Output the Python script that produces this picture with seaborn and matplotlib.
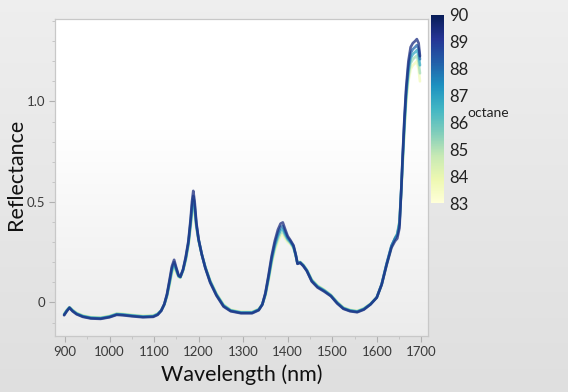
import numpy as np
import pandas as pd
import matplotlib
matplotlib.use("Agg")
import matplotlib.pyplot as plt
import seaborn as sns
from matplotlib.ticker import MultipleLocator

# ---------------- data ----------------
wavelength = [898, 904, 910, 917, 926, 940, 958, 980, 1000, 1016, 1030, 1050, 1075, 1098,
              1108, 1116, 1123, 1129, 1135, 1140, 1145, 1150, 1155, 1159, 1165, 1171, 1177,
              1182, 1185, 1188, 1191, 1195, 1200, 1207, 1215, 1226, 1240, 1256, 1272, 1295,
              1320, 1335, 1343, 1350, 1357, 1364, 1371, 1378, 1384, 1389, 1394, 1400, 1406,
              1413, 1418, 1422, 1428, 1435, 1443, 1454, 1467, 1482, 1497, 1511, 1525, 1540,
              1556, 1571, 1586, 1600, 1611, 1622, 1633, 1641, 1646, 1651, 1655, 1658, 1662,
              1666, 1671, 1676, 1681, 1686, 1690, 1694, 1697]

octane = [83.7, 85.2, 86.8, 88.1, 89.4]

refl_837 = [-0.056, -0.037, -0.024, -0.037, -0.051, -0.064, -0.072, -0.074, -0.066, -0.055,
            -0.056, -0.061, -0.066, -0.064, -0.055, -0.040, -0.013,
            0.028, 0.085, 0.140, 0.170, 0.148, 0.125, 0.122, 0.155, 0.205, 0.275, 0.365,
            0.425, 0.470, 0.440, 0.365, 0.305, 0.240, 0.178, 0.110, 0.046,
            -0.010, -0.036, -0.046, -0.046, -0.032, -0.010, 0.032, 0.105, 0.190, 0.255, 0.300,
            0.330, 0.338, 0.318, 0.300, 0.290, 0.268, 0.232, 0.198, 0.202, 0.188, 0.163,
            0.115, 0.085, 0.064, 0.038, 0.004, -0.024, -0.036, -0.041, -0.029, -0.006,
            0.025, 0.088, 0.185, 0.275, 0.320, 0.345, 0.405, 0.545, 0.670, 0.840, 0.990,
            1.100, 1.160, 1.180, 1.190, 1.200, 1.160, 1.100]

refl_852 = [-0.058, -0.038, -0.024, -0.038, -0.053, -0.066, -0.074, -0.076, -0.068, -0.056,
            -0.058, -0.063, -0.068, -0.066, -0.056, -0.040, -0.012,
            0.031, 0.092, 0.150, 0.180, 0.154, 0.128, 0.124, 0.158, 0.210, 0.283, 0.378,
            0.443, 0.490, 0.455, 0.372, 0.308, 0.240, 0.177, 0.108, 0.043,
            -0.012, -0.038, -0.048, -0.048, -0.034, -0.010, 0.036, 0.112, 0.200, 0.268, 0.315,
            0.345, 0.352, 0.330, 0.308, 0.295, 0.272, 0.234, 0.197, 0.201, 0.187, 0.162,
            0.113, 0.083, 0.062, 0.037, 0.002, -0.026, -0.038, -0.043, -0.030, -0.007,
            0.025, 0.089, 0.188, 0.278, 0.320, 0.342, 0.402, 0.552, 0.685, 0.860, 1.010,
            1.125, 1.190, 1.210, 1.220, 1.228, 1.195, 1.140]

refl_868 = [-0.060, -0.040, -0.025, -0.040, -0.055, -0.068, -0.076, -0.078, -0.070, -0.058,
            -0.060, -0.065, -0.070, -0.068, -0.058, -0.040, -0.010,
            0.035, 0.100, 0.160, 0.190, 0.160, 0.130, 0.125, 0.160, 0.215, 0.290, 0.390,
            0.460, 0.510, 0.470, 0.380, 0.310, 0.240, 0.175, 0.105, 0.040,
            -0.015, -0.040, -0.050, -0.050, -0.035, -0.010, 0.040, 0.120, 0.210, 0.280, 0.330,
            0.360, 0.365, 0.340, 0.315, 0.300, 0.275, 0.235, 0.195, 0.200, 0.185, 0.160,
            0.110, 0.080, 0.060, 0.035, 0.000, -0.028, -0.040, -0.045, -0.032, -0.008,
            0.025, 0.090, 0.190, 0.280, 0.320, 0.340, 0.400, 0.560, 0.700, 0.880, 1.030,
            1.150, 1.215, 1.235, 1.245, 1.255, 1.230, 1.180]

refl_881 = [-0.062, -0.042, -0.026, -0.042, -0.057, -0.070, -0.078, -0.080, -0.072, -0.060,
            -0.062, -0.067, -0.072, -0.070, -0.060, -0.041, -0.009,
            0.038, 0.108, 0.170, 0.200, 0.166, 0.133, 0.127, 0.162, 0.220, 0.297, 0.402,
            0.478, 0.530, 0.486, 0.388, 0.312, 0.240, 0.173, 0.102, 0.037,
            -0.018, -0.042, -0.052, -0.052, -0.037, -0.010, 0.044, 0.128, 0.220, 0.292, 0.345,
            0.375, 0.380, 0.352, 0.322, 0.305, 0.280, 0.237, 0.193, 0.198, 0.183, 0.158,
            0.107, 0.077, 0.057, 0.033, -0.003, -0.030, -0.042, -0.047, -0.034, -0.009,
            0.025, 0.091, 0.192, 0.282, 0.318, 0.335, 0.390, 0.565, 0.715, 0.900, 1.050,
            1.175, 1.240, 1.260, 1.270, 1.280, 1.262, 1.210]

refl_894 = [-0.064, -0.044, -0.027, -0.044, -0.059, -0.072, -0.080, -0.082, -0.074, -0.062,
            -0.064, -0.069, -0.074, -0.072, -0.062, -0.042, -0.008,
            0.042, 0.116, 0.180, 0.212, 0.172, 0.135, 0.128, 0.164, 0.226, 0.305, 0.415,
            0.500, 0.555, 0.505, 0.396, 0.314, 0.240, 0.171, 0.098, 0.034,
            -0.021, -0.044, -0.054, -0.054, -0.039, -0.011, 0.048, 0.136, 0.232, 0.306, 0.362,
            0.392, 0.398, 0.366, 0.330, 0.310, 0.284, 0.239, 0.192, 0.197, 0.181, 0.156,
            0.104, 0.074, 0.054, 0.031, -0.005, -0.032, -0.044, -0.049, -0.036, -0.010,
            0.024, 0.088, 0.185, 0.272, 0.305, 0.318, 0.370, 0.560, 0.725, 0.915, 1.070,
            1.200, 1.270, 1.290, 1.300, 1.310, 1.290, 1.225]

spectra = [refl_837, refl_852, refl_868, refl_881, refl_894]

x_ticks = [900, 1000, 1100, 1200, 1300, 1400, 1500, 1600, 1700]
y_ticks = [0.0, 0.5, 1.0]
y_tick_labels = ["0", "0.5", "1.0"]
cbar_ticks = [83, 84, 85, 86, 87, 88, 89, 90]

# ---------------- build long table ----------------
rows = []
for i, (oc, spec) in enumerate(zip(octane, spectra)):
    for w, r in zip(wavelength, spec):
        rows.append({"sample": i, "octane": oc, "Wavelength": w, "Reflectance": r})
df = pd.DataFrame(rows)

# ---------------- figure ----------------
sns.set_theme(style="white")
plt.rcParams["font.family"] = ["Lato", "DejaVu Sans"]

fig = plt.figure(figsize=(5.68, 3.92), dpi=100)


def vgrad(top, bottom, flat_frac=0.0, n=256):
    nflat = int(n * flat_frac)
    v = np.concatenate([np.full(nflat, top), np.linspace(top, bottom, n - nflat)])
    img = np.repeat(v.reshape(-1, 1, 1), 3, axis=2)
    return img


# figure background gradient (light grey)
bg = fig.add_axes([0, 0, 1, 1], zorder=-10)
bg.imshow(vgrad(0.935, 0.875), aspect="auto", extent=[0, 1, 0, 1], origin="upper")
bg.set_axis_off()

ax = fig.add_axes([0.0968, 0.1429, 0.6567, 0.8086])
ax.set_facecolor("none")
ax.imshow(vgrad(1.0, 0.925, flat_frac=0.35), aspect="auto", extent=[0, 1, 0, 1],
          transform=ax.transAxes, origin="upper", zorder=0)

cmap = "YlGnBu"
sns.lineplot(data=df, x="Wavelength", y="Reflectance", hue="octane", units="sample",
             estimator=None, palette=cmap, hue_norm=(83, 90), legend=False,
             linewidth=1.9, alpha=0.75, ax=ax, zorder=3, sort=False)

ax.set_xlim(877.5, 1715)
ax.set_ylim(-0.167, 1.41)
ax.set_xticks(x_ticks)
ax.set_yticks(y_ticks)
ax.set_yticklabels(y_tick_labels)
ax.xaxis.set_minor_locator(MultipleLocator(50))
ax.yaxis.set_minor_locator(MultipleLocator(0.1))
ax.tick_params(axis="both", which="major", direction="out", length=4, width=0.8,
               color="#b0b0b0", labelsize=9.5, labelcolor="#3a3a3a", pad=3,
               bottom=True, left=True)
ax.tick_params(axis="both", which="minor", direction="out", length=2, width=0.6,
               color="#c0c0c0", bottom=True, left=True)
for s in ax.spines.values():
    s.set_color("#c8c8c8")
    s.set_linewidth(0.9)

ax.set_xlabel("Wavelength (nm)", fontsize=15.5, color="#111111")
ax.set_ylabel("Reflectance", fontsize=15.5, color="#111111")
ax.xaxis.set_label_coords(0.5, -0.09)
ax.yaxis.set_label_coords(-0.078, 0.51)

# colorbar
cax = fig.add_axes([0.7588, 0.482, 0.0229, 0.480])
sm = plt.cm.ScalarMappable(norm=plt.Normalize(83, 90), cmap=cmap)
cb = fig.colorbar(sm, cax=cax, ticks=cbar_ticks)
cb.outline.set_visible(False)
cax.tick_params(length=0, labelsize=12, labelcolor="#222222", pad=4)
fig.text(0.822, 0.712, "octane", fontsize=10, color="#222222", ha="left", va="center")

fig.savefig("out.png", dpi=100)
